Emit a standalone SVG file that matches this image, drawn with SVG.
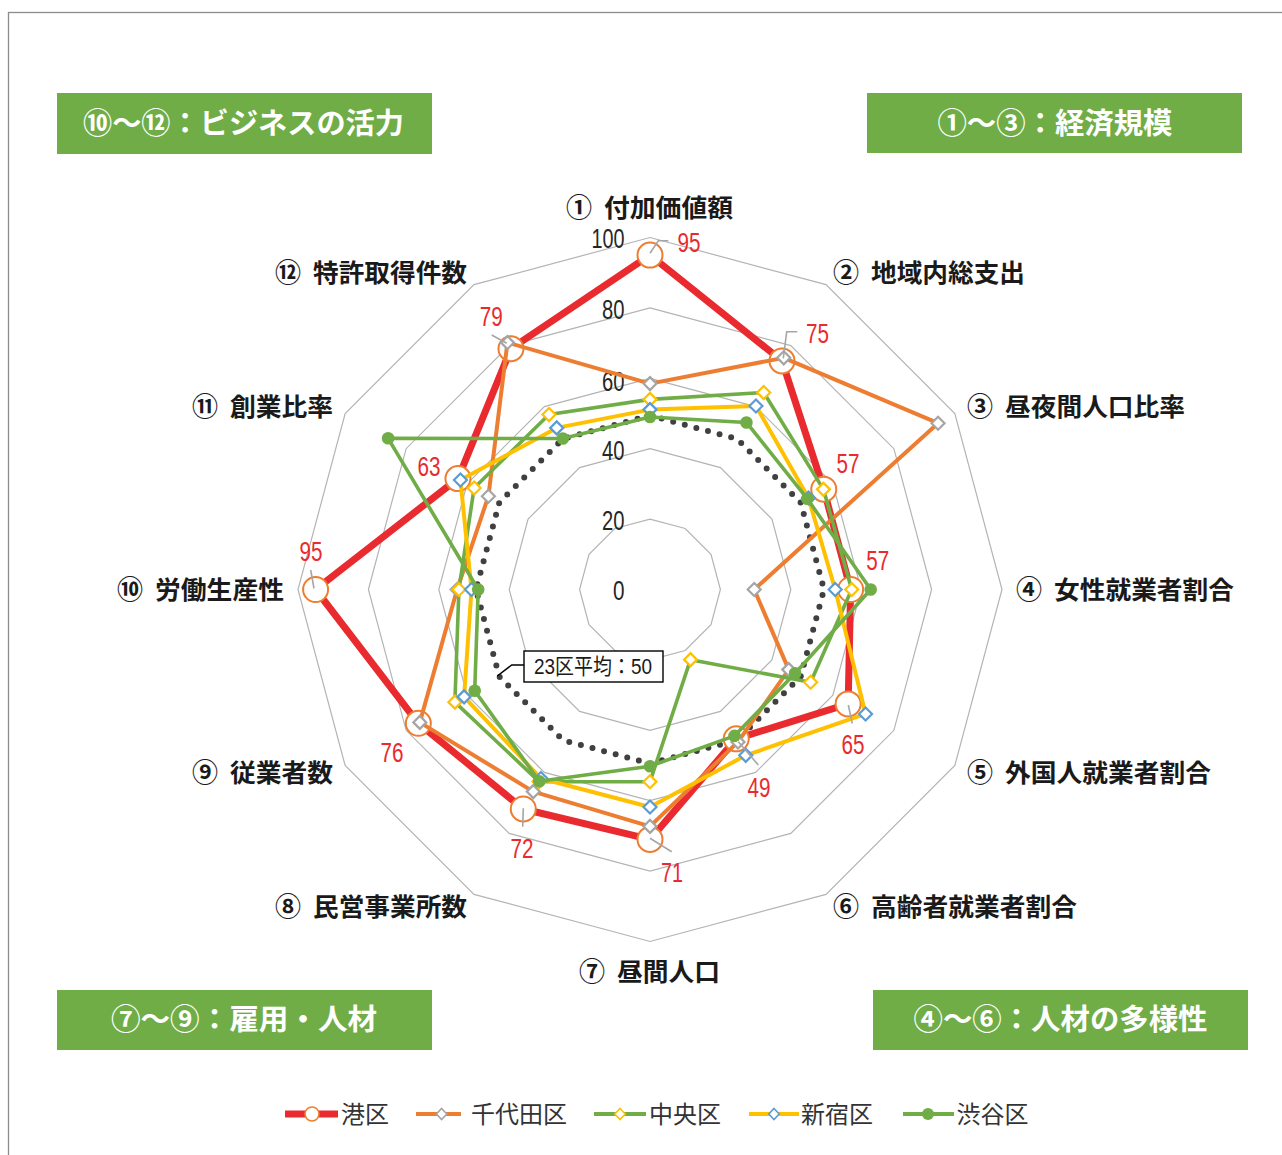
<svg xmlns="http://www.w3.org/2000/svg" width="1282" height="1155" viewBox="0 0 1282 1155">
<style>
.grid{fill:none;stroke:#B4B4B4;stroke-width:1.2}
.tick{font-family:"Liberation Sans",sans-serif;font-size:28px;fill:#262626;text-anchor:end}
.val{font-family:"Liberation Sans",sans-serif;font-size:28px;fill:#E92A2E;text-anchor:middle}
.axis{font-family:"Noto Sans CJK JP",sans-serif;font-size:25px;font-weight:700;fill:#1a1a1a}
.num{font-family:"Noto Sans CJK JP",sans-serif;font-size:26px;font-weight:700;fill:#1a1a1a}
.box{fill:#70AD47}
.boxt{font-family:"Noto Sans CJK JP",sans-serif;font-size:29px;font-weight:700;fill:#fff;text-anchor:middle}
.lead{fill:none;stroke:#A6A6A6;stroke-width:1.6}
.leg{font-family:"Noto Sans CJK JP",sans-serif;font-size:24px;fill:#333}
.s{fill:none;stroke-linejoin:round}
</style>
<defs>
<marker id="mMin" markerUnits="userSpaceOnUse" markerWidth="30" markerHeight="30" refX="15" refY="15" overflow="visible"><circle cx="15" cy="15" r="12.5" fill="#fff" stroke="#ED7D31" stroke-width="2"/></marker>
<marker id="mChi" markerUnits="userSpaceOnUse" markerWidth="20" markerHeight="20" refX="10" refY="10" overflow="visible"><path d="M10,3.5 L16.5,10 L10,16.5 L3.5,10Z" fill="#fff" stroke="#A5A5A5" stroke-width="2.2"/></marker>
<marker id="mChu" markerUnits="userSpaceOnUse" markerWidth="20" markerHeight="20" refX="10" refY="10" overflow="visible"><path d="M10,3.5 L16.5,10 L10,16.5 L3.5,10Z" fill="#fff" stroke="#FFC000" stroke-width="2.2"/></marker>
<marker id="mShi" markerUnits="userSpaceOnUse" markerWidth="20" markerHeight="20" refX="10" refY="10" overflow="visible"><path d="M10,3.5 L16.5,10 L10,16.5 L3.5,10Z" fill="#fff" stroke="#5B9BD5" stroke-width="2.2"/></marker>
<marker id="mShb" markerUnits="userSpaceOnUse" markerWidth="20" markerHeight="20" refX="10" refY="10" overflow="visible"><circle cx="10" cy="10" r="6.3" fill="#70AD47"/></marker>
</defs>
<rect width="1282" height="1155" fill="#fff"/>
<rect x="8.5" y="12.5" width="1300" height="1200" fill="none" stroke="#8C8C8C" stroke-width="1.3"/>

<g id="grid">
<polygon class="grid" points="650,519.1 685.2,528.53 710.97,554.3 720.4,589.5 710.97,624.7 685.2,650.47 650,659.9 614.8,650.47 589.03,624.7 579.6,589.5 589.03,554.3 614.8,528.53"/>
<polygon class="grid" points="650,448.7 720.4,467.57 771.93,519.1 790.8,589.5 771.93,659.9 720.4,711.43 650,730.3 579.6,711.43 528.07,659.9 509.2,589.5 528.07,519.1 579.6,467.57"/>
<polygon class="grid" points="650,378.3 755.6,406.6 832.9,483.9 861.2,589.5 832.9,695.1 755.6,772.4 650,800.7 544.4,772.4 467.1,695.1 438.8,589.5 467.1,483.9 544.4,406.6"/>
<polygon class="grid" points="650,307.9 790.8,345.63 893.87,448.7 931.6,589.5 893.87,730.3 790.8,833.37 650,871.1 509.2,833.37 406.13,730.3 368.4,589.5 406.13,448.7 509.2,345.63"/>
<polygon class="grid" points="650,237.5 826,284.66 954.84,413.5 1002,589.5 954.84,765.5 826,894.34 650,941.5 474,894.34 345.16,765.5 298,589.5 345.16,413.5 474,284.66"/>
</g>

<g id="ticks">
<text class="tick" x="624.5" y="248" textLength="33" lengthAdjust="spacingAndGlyphs">100</text>
<text class="tick" x="624.5" y="319" textLength="22.5" lengthAdjust="spacingAndGlyphs">80</text>
<text class="tick" x="624.5" y="391" textLength="22.5" lengthAdjust="spacingAndGlyphs">60</text>
<text class="tick" x="624.5" y="460" textLength="22.5" lengthAdjust="spacingAndGlyphs">40</text>
<text class="tick" x="624.5" y="530" textLength="22.5" lengthAdjust="spacingAndGlyphs">20</text>
<text class="tick" x="624.5" y="600" textLength="11.5" lengthAdjust="spacingAndGlyphs">0</text>
</g>

<g id="average">
<polygon fill="none" stroke="#404040" stroke-width="6" stroke-linecap="round" stroke-dasharray="0 12" points="650,415.5 737,438.8 800.7,502.5 824,589.5 800.7,676.5 737,740.2 650,763.5 563,740.2 499.3,676.5 476,589.5 499.3,502.5 563,438.8"/>
</g>

<g id="series">
<polygon id="minato" class="s" stroke="#E92A2E" stroke-width="7" marker-start="url(#mMin)" marker-mid="url(#mMin)" points="650,255.1 782,360.88 823.75,489.18 850.64,589.5 848.14,703.9 736.24,738.87 650,839.42 523.28,808.98 418.33,723.26 315.6,589.5 457.96,478.62 510.96,348.68"/>
<polygon id="chiyoda" class="s" stroke="#ED7D31" stroke-width="4" marker-start="url(#mChi)" marker-mid="url(#mChi)" points="650,383.6 783.75,357.84 938.04,423.2 754.2,589.5 788.73,669.6 738,741.92 650,826.4 533.3,791.62 419.82,722.4 457.1,589.5 488.4,496.2 507.45,342.6"/>
<polygon id="chuo" class="s" stroke="#70AD47" stroke-width="3.6" marker-start="url(#mChu)" marker-mid="url(#mChu)" points="650,399.4 763.7,392.57 823.46,489.35 851.7,589.5 810.64,682.25 690.5,659.65 650,781.7 539.1,781.58 454.89,702.15 458.9,589.5 474.12,487.95 549,414.57"/>
<polygon id="shinjuku" class="s" stroke="#FFC000" stroke-width="4" marker-start="url(#mShi)" marker-mid="url(#mShi)" points="650,409.6 755.95,405.99 808.48,498 835.2,589.5 865.55,713.95 745.75,755.34 650,807 540.9,778.46 464.07,696.85 471.5,589.5 460.43,480.05 556.7,427.9"/>
<polygon id="shibuya" class="s" stroke="#70AD47" stroke-width="3.6" marker-start="url(#mShb)" marker-mid="url(#mShb)" points="650,417 746.45,422.45 807.27,498.7 870.7,589.5 795.14,673.3 734.5,735.85 650,766.2 539.3,781.23 474.72,690.7 478.2,589.5 388.12,438.3 562.85,438.55"/>
</g>

<g id="leaders">
<polyline class="lead" points="650,253.3 658.3,240.7 668.3,240.7"/>
<polyline class="lead" points="783.3,358.3 786.7,331.7 797.3,331.7"/>
<polyline class="lead" points="848.3,705 852.3,723.3"/>
<polyline class="lead" points="738.3,741.7 758.3,765"/>
<polyline class="lead" points="650,838.3 671.7,851.7"/>
<polyline class="lead" points="523.3,808.3 522.7,826.7"/>
<polyline class="lead" points="310.7,570 314,588.3"/>
<polyline class="lead" points="491.7,335 506.7,343.3"/>
</g>

<g id="values">
<text class="val" x="689" y="251.5" textLength="23" lengthAdjust="spacingAndGlyphs">95</text>
<text class="val" x="817.5" y="342.5" textLength="23" lengthAdjust="spacingAndGlyphs">75</text>
<text class="val" x="848" y="473" textLength="23" lengthAdjust="spacingAndGlyphs">57</text>
<text class="val" x="877.7" y="570" textLength="23" lengthAdjust="spacingAndGlyphs">57</text>
<text class="val" x="853" y="754" textLength="23" lengthAdjust="spacingAndGlyphs">65</text>
<text class="val" x="759" y="796.5" textLength="23" lengthAdjust="spacingAndGlyphs">49</text>
<text class="val" x="672" y="882" textLength="22" lengthAdjust="spacingAndGlyphs">71</text>
<text class="val" x="522" y="857.5" textLength="23" lengthAdjust="spacingAndGlyphs">72</text>
<text class="val" x="392" y="762" textLength="23" lengthAdjust="spacingAndGlyphs">76</text>
<text class="val" x="311" y="561" textLength="23" lengthAdjust="spacingAndGlyphs">95</text>
<text class="val" x="429" y="476" textLength="23" lengthAdjust="spacingAndGlyphs">63</text>
<text class="val" x="491.3" y="326" textLength="23" lengthAdjust="spacingAndGlyphs">79</text>
</g>

<g id="avg-callout">
<polyline fill="none" stroke="#000" stroke-width="1.5" points="497.3,676 511.7,665 524,665"/>
<rect x="524" y="651" width="139" height="31" fill="#fff" stroke="#000" stroke-width="1.4"/>
<text x="534" y="674" font-family="'Liberation Sans','Noto Sans CJK JP',sans-serif" font-size="22" fill="#1a1a1a" textLength="118" lengthAdjust="spacingAndGlyphs">23区平均：50</text>
</g>

<g id="axis-labels">
<g id="ax1"><text class="num" x="566" y="217">①</text><text class="axis" x="604" y="217" textLength="129" lengthAdjust="spacingAndGlyphs">付加価値額</text></g>
<g id="ax2"><text class="num" x="833" y="282">②</text><text class="axis" x="871" y="282" textLength="154" lengthAdjust="spacingAndGlyphs">地域内総支出</text></g>
<g id="ax3"><text class="num" x="967" y="416">③</text><text class="axis" x="1005" y="416" textLength="180" lengthAdjust="spacingAndGlyphs">昼夜間人口比率</text></g>
<g id="ax4"><text class="num" x="1016" y="599">④</text><text class="axis" x="1054" y="599" textLength="180" lengthAdjust="spacingAndGlyphs">女性就業者割合</text></g>
<g id="ax5"><text class="num" x="967" y="782">⑤</text><text class="axis" x="1005" y="782" textLength="206" lengthAdjust="spacingAndGlyphs">外国人就業者割合</text></g>
<g id="ax6"><text class="num" x="833" y="916">⑥</text><text class="axis" x="871" y="916" textLength="206" lengthAdjust="spacingAndGlyphs">高齢者就業者割合</text></g>
<g id="ax7"><text class="num" x="579" y="981">⑦</text><text class="axis" x="617" y="981" textLength="103" lengthAdjust="spacingAndGlyphs">昼間人口</text></g>
<g id="ax8"><text class="num" x="275" y="916">⑧</text><text class="axis" x="313" y="916" textLength="154" lengthAdjust="spacingAndGlyphs">民営事業所数</text></g>
<g id="ax9"><text class="num" x="192" y="782">⑨</text><text class="axis" x="230" y="782" textLength="103" lengthAdjust="spacingAndGlyphs">従業者数</text></g>
<g id="ax10"><text class="num" x="117" y="599">⑩</text><text class="axis" x="155" y="599" textLength="129" lengthAdjust="spacingAndGlyphs">労働生産性</text></g>
<g id="ax11"><text class="num" x="192" y="416">⑪</text><text class="axis" x="230" y="416" textLength="103" lengthAdjust="spacingAndGlyphs">創業比率</text></g>
<g id="ax12"><text class="num" x="275" y="282">⑫</text><text class="axis" x="313" y="282" textLength="154" lengthAdjust="spacingAndGlyphs">特許取得件数</text></g>
</g>

<g id="box-business">
<rect class="box" x="57" y="93" width="375" height="61"/>
<text class="boxt" x="243.5" y="134" textLength="321" lengthAdjust="spacingAndGlyphs">⑩～⑫：ビジネスの活力</text>
</g>
<g id="box-economy">
<rect class="box" x="867" y="93" width="375" height="60"/>
<text class="boxt" x="1055" y="133.5" textLength="235" lengthAdjust="spacingAndGlyphs">①～③：経済規模</text>
</g>
<g id="box-employment">
<rect class="box" x="57" y="990" width="375" height="60"/>
<text class="boxt" x="244" y="1030" textLength="266" lengthAdjust="spacingAndGlyphs">⑦～⑨：雇用・人材</text>
</g>
<g id="box-diversity">
<rect class="box" x="873" y="990" width="375" height="60"/>
<text class="boxt" x="1060.5" y="1030" textLength="294" lengthAdjust="spacingAndGlyphs">④～⑥：人材の多様性</text>
</g>

<g id="legend">
<line x1="285" y1="1114" x2="338" y2="1114" stroke="#E92A2E" stroke-width="7"/>
<circle cx="312" cy="1114" r="7" fill="#fff" stroke="#ED7D31" stroke-width="1.6"/>
<text class="leg" x="341" y="1123">港区</text>
<line x1="416" y1="1114" x2="461" y2="1114" stroke="#ED7D31" stroke-width="4"/>
<path d="M441.6,1108.5 L446.8,1114 L441.6,1119.5 L436.4,1114Z" fill="#fff" stroke="#A5A5A5" stroke-width="1.6"/>
<text class="leg" x="471" y="1123">千代田区</text>
<line x1="594" y1="1114" x2="646" y2="1114" stroke="#70AD47" stroke-width="4"/>
<path d="M620,1108.5 L625.2,1114 L620,1119.5 L614.8,1114Z" fill="#fff" stroke="#FFC000" stroke-width="1.6"/>
<text class="leg" x="649" y="1123">中央区</text>
<line x1="749" y1="1114" x2="799" y2="1114" stroke="#FFC000" stroke-width="4"/>
<path d="M774,1108.5 L779.2,1114 L774,1119.5 L768.8,1114Z" fill="#fff" stroke="#5B9BD5" stroke-width="1.6"/>
<text class="leg" x="801" y="1123">新宿区</text>
<line x1="903" y1="1114" x2="954" y2="1114" stroke="#70AD47" stroke-width="4"/>
<circle cx="928" cy="1114" r="6" fill="#70AD47"/>
<text class="leg" x="956.5" y="1123">渋谷区</text>
</g>
</svg>
